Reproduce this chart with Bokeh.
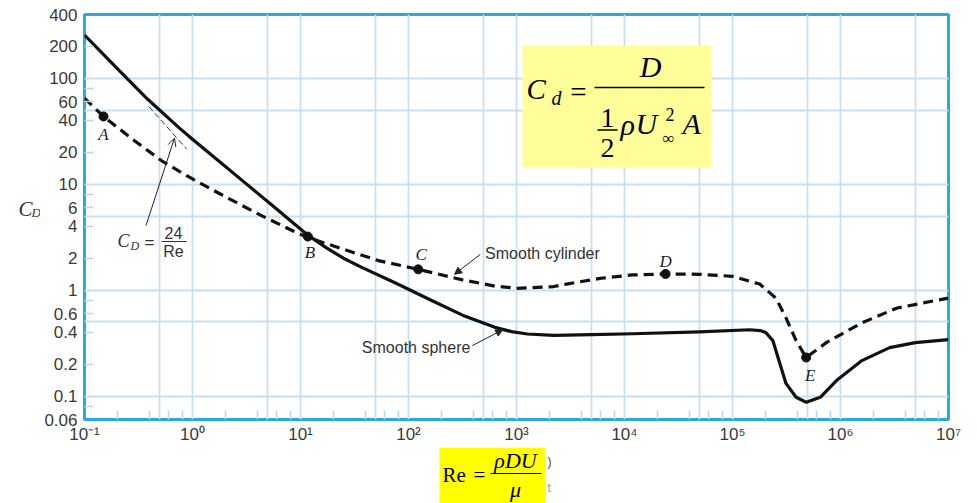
from math import log10
from bokeh.plotting import figure
from bokeh.layouts import column, row
from bokeh.models import (FixedTicker, Label, Arrow, OpenHead, NormalHead,
                          BoxAnnotation, Range1d)
from bokeh.embed import file_html
from bokeh.resources import INLINE

# ---------------- data ----------------
sphere_re = [0.1, 0.194, 0.387, 0.753, 1.0, 1.49, 3.03, 6.05, 8.46, 11.7, 17.4,
             25.0, 36.9, 76.7, 155, 316, 631, 901, 1259, 2213, 2909, 5000, 11860,
             49440, 144200, 180000, 203200, 236600, 274900, 312800, 388000,
             481000, 650000, 918000, 1.578e6, 2.85e6, 4.93e6, 1e7]
sphere_cd = [256, 128, 63, 34, 26.6, 19.0, 10.4, 5.8, 4.35, 3.3, 2.5,
             2.0, 1.64, 1.16, 0.82, 0.58, 0.445, 0.405, 0.385, 0.374, 0.375, 0.38, 0.387,
             0.404, 0.422, 0.415, 0.398, 0.333, 0.202, 0.1315, 0.0972,
             0.0873, 0.0972, 0.140, 0.216, 0.286, 0.319, 0.340]

cyl_re = [0.1, 0.150, 0.275, 0.538, 1.0, 2.12, 4.27, 8.46, 11.7, 25.3, 52.6,
          123, 316, 631, 1000, 2213, 2909, 5929, 11860, 23990, 49440, 1e5,
          178600, 252200, 312800, 388000, 481000, 739000, 1.578e6, 3.35e6, 1e7]
cyl_cd = [64.8, 43.6, 26.8, 16.2, 11.2, 7.4, 5.1, 3.63, 3.14, 2.42, 1.90,
          1.57, 1.25, 1.09, 1.04, 1.08, 1.14, 1.29, 1.39, 1.42, 1.41, 1.35,
          1.14, 0.841, 0.547, 0.333, 0.231, 0.319, 0.491, 0.678, 0.841]

point_names = ["A", "B", "C", "D", "E"]
point_re = [0.150, 11.7, 123, 23990, 481000]
point_cd = [43.6, 3.2, 1.57, 1.42, 0.231]

stokes_re = [0.394, 0.885]   # C_D = 24/Re reference segment
stokes_cd = [54.2, 21.4]

x_ticks = [1e-1, 1, 10, 100, 1e3, 1e4, 1e5, 1e6, 1e7]
x_tick_labels = ["10⁻¹", "10⁰", "10¹", "10²", "10³", "10⁴", "10⁵", "10⁶", "10⁷"]
y_ticks = [0.06, 0.1, 0.2, 0.4, 0.6, 1, 2, 4, 6, 10, 20, 40, 60, 100, 200, 400]
y_tick_labels = ["0.06", "0.1", "0.2", "0.4", "0.6", "1", "2", "4", "6", "10",
                 "20", "40", "60", "100", "200", "400"]

SERIF = "Liberation Serif"
SANS = "Liberation Sans"
GRID = "#c6e0f4"

# ---------------- main figure ----------------
LEFT_W = 40
MAIN_H = 447
p = figure(width=963 - LEFT_W, height=MAIN_H, x_axis_type="log", y_axis_type="log",
           x_range=Range1d(0.1, 1e7), y_range=Range1d(0.06, 400),
           output_backend="svg", toolbar_location=None,
           min_border_left=84 - LEFT_W, min_border_right=15, min_border_top=14,
           min_border_bottom=MAIN_H - 419)
p.background_fill_color = "white"
p.border_fill_color = "white"
p.outline_line_color = "#29a9e1"
p.outline_line_width = 3

decades = [10.0 ** k for k in range(-2, 8)]
minor = [m * d for d in decades for m in (2, 4, 6, 8)]
p.xaxis.ticker = FixedTicker(ticks=x_ticks, minor_ticks=[v for v in minor if 0.1 < v < 1e7])
p.yaxis.ticker = FixedTicker(ticks=y_ticks, minor_ticks=[v for v in minor if 0.06 < v < 400])
p.xaxis.major_label_overrides = dict(zip(x_ticks, x_tick_labels))
p.yaxis.major_label_overrides = dict(zip(y_ticks, y_tick_labels))
for ax in (p.xaxis, p.yaxis):
    ax.axis_line_color = None
    ax.major_tick_in = 0
    ax.major_tick_out = 0
    ax.minor_tick_in = 9
    ax.minor_tick_out = 0
    ax.minor_tick_line_color = "#b8d8ef"
    ax.minor_tick_line_width = 1.5
    ax.major_label_text_font = SANS
    ax.major_label_text_font_size = "17px"
    ax.major_label_text_color = "#3a3a3a"
p.xaxis.major_label_standoff = 5
p.yaxis.major_label_standoff = 7

grid_vals = sorted([d for d in decades] + [5 * d for d in decades])
p.xgrid.ticker = FixedTicker(ticks=grid_vals)
p.ygrid.ticker = FixedTicker(ticks=grid_vals)
for g in (p.xgrid, p.ygrid):
    g.grid_line_color = GRID
    g.grid_line_width = 1.8

# curves
p.line(sphere_re, sphere_cd, line_color="#111111", line_width=3.2, line_join="round")
p.line(cyl_re, cyl_cd, line_color="#111111", line_width=3.2, line_dash="10 6")
p.line(stokes_re, stokes_cd, line_color="#333333", line_width=1, line_dash="6 3")
p.scatter(point_re, point_cd, size=9, color="#111111")

# annotation helpers (page pixel -> data of main figure)
FL, FR, FT, FB = 84, 948, 14, 419
LY0, LY1 = log10(0.06), log10(400)


def dx(xp):
    return 10 ** (-1 + (xp - FL) / (FR - FL) * 8)


def dy(yp):
    return 10 ** (LY1 - (yp - FT) / (FB - FT) * (LY1 - LY0))


def txt(fig, xv, yv, s, size, font=SANS, style="normal", align="left",
        color="#333333"):
    fig.add_layout(Label(x=xv, y=yv, text=s, text_font=font,
                         text_font_size=f"{size}px", text_font_style=style,
                         text_align=align, text_baseline="middle", text_color=color))


def mtxt(xp, yp, s, size, **kw):
    txt(p, dx(xp), dy(yp), s, size, **kw)


def mbar(x0, x1, yp, color="#111111", th=1.4):
    p.add_layout(BoxAnnotation(left=dx(x0), right=dx(x1), top=dy(yp - th / 2),
                               bottom=dy(yp + th / 2), fill_color=color,
                               fill_alpha=1, line_color=None))


# point letters (data coordinates)
letter_pos = [(0.150, 29.6), (12.2, 2.27), (131, 2.17), (23990, 1.87), (525000, 0.156)]
for name, (lx, ly) in zip(point_names, letter_pos):
    txt(p, lx, ly, name, 17, font=SERIF, style="italic", align="center", color="#222222")

# curve labels and arrows
txt(p, 512, 2.22, "Smooth cylinder", 16)
txt(p, 374, 0.286, "Smooth sphere", 16, align="right")
p.add_layout(Arrow(x_start=461, y_start=2.17, x_end=267, y_end=1.41,
                   line_width=1, line_color="#222222",
                   end=NormalHead(size=7, fill_color="#222222", line_color="#222222")))
p.add_layout(Arrow(x_start=390, y_start=0.299, x_end=746, y_end=0.422,
                   line_width=1, line_color="#222222",
                   end=NormalHead(size=7, fill_color="#222222", line_color="#222222")))
p.add_layout(Arrow(x_start=0.371, y_start=4.07, x_end=0.681, y_end=27.2,
                   line_width=1, line_color="#222222",
                   end=OpenHead(size=8, line_width=1, line_color="#222222")))

# C_D = 24/Re
mtxt(117, 240, "C", 18, font=SERIF, style="italic")
mtxt(130, 245, "D", 12, font=SERIF, style="italic")
mtxt(149, 242, "=", 17, align="center")
mtxt(173, 232, "24", 16, align="center")
mbar(161, 186, 241, color="#333333", th=1.2)
mtxt(173, 251, "Re", 16, align="center")

# drag coefficient formula box
p.add_layout(BoxAnnotation(left=dx(522), right=dx(711), top=dy(45), bottom=dy(167),
                           fill_color="#ffff99", fill_alpha=1, line_color=None))
K = "#000000"
mtxt(526, 88, "C", 29, font=SERIF, style="italic", color=K)
mtxt(551, 97, "d", 20, font=SERIF, style="italic", color=K)
mtxt(578, 91, "=", 29, font=SERIF, align="center", color=K)
mbar(594, 704, 87, color=K, th=1.6)
mtxt(650, 66, "D", 30, font=SERIF, style="italic", align="center", color=K)
mtxt(607, 117, "1", 28, font=SERIF, align="center", color=K)
mbar(597, 617, 129.5, color=K, th=1.4)
mtxt(607, 147, "2", 28, font=SERIF, align="center", color=K)
mtxt(620, 124, "ρ", 30, font=SERIF, style="italic", color=K)
mtxt(635, 123, "U", 30, font=SERIF, style="italic", color=K)
mtxt(665, 114, "2", 18, font=SERIF, color=K)
mtxt(662, 138, "∞", 17, font=SERIF, color=K)
mtxt(682, 123, "A", 30, font=SERIF, style="italic", color=K)


def helper_fig(w, h, xr, yr):
    f = figure(width=w, height=h, x_range=Range1d(*xr), y_range=Range1d(*yr),
               output_backend="svg", toolbar_location=None, min_border=0,
               x_axis_location=None, y_axis_location=None)
    f.grid.visible = False
    f.outline_line_color = None
    f.background_fill_color = "white"
    f.border_fill_color = "white"
    return f


# y-axis title panel (page pixel coordinates)
ylab = helper_fig(LEFT_W, MAIN_H, (0, LEFT_W), (MAIN_H, 0))
txt(ylab, 18, 215, "C", 21, font=SERIF, style="italic")
txt(ylab, 31, 219, "D", 13, font=SERIF, style="italic")

# Reynolds number panel below (page pixel coordinates)
bot = helper_fig(963, 503 - MAIN_H, (0, 963), (503, MAIN_H))
bot.add_layout(BoxAnnotation(left=439, right=545, top=MAIN_H, bottom=503,
                             fill_color="#ffff00", fill_alpha=1, line_color=None))
txt(bot, 442, 474, "Re", 21, font=SERIF, color=K)
txt(bot, 479, 474, "=", 21, font=SERIF, align="center", color=K)
bot.add_layout(BoxAnnotation(left=490, right=541, top=472.4, bottom=473.6,
                             fill_color=K, fill_alpha=1, line_color=None))
txt(bot, 515, 460, "ρDU", 22, font=SERIF, style="italic", align="center", color=K)
txt(bot, 515, 489, "μ", 22, font=SERIF, style="italic", align="center", color=K)
txt(bot, 547, 461, ")", 12, color="#444444")
txt(bot, 547, 487, "t", 12, color="#999999")

layout = column(row(ylab, p), bot)
open("out.html", "w").write(file_html(layout, INLINE))
